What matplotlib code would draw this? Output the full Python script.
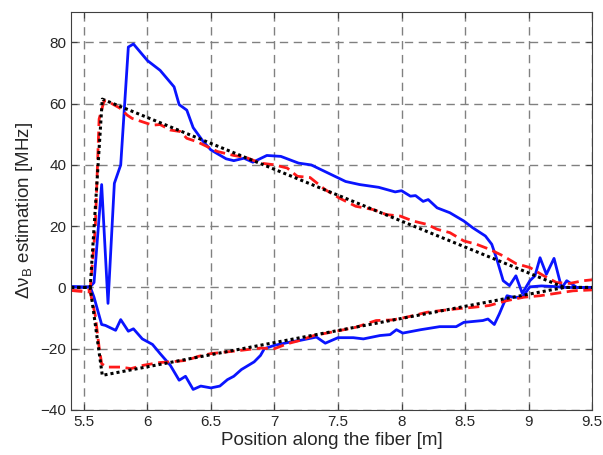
import matplotlib
matplotlib.use("Agg")
import matplotlib.pyplot as plt

# black dotted: theoretical profile
theory_up_x = [5.40, 5.55, 5.645, 9.28, 9.50]
theory_up_y = [0.0, 0.0, 61.5, 0.0, 0.0]
theory_lo_x = [5.40, 5.55, 5.645, 9.28, 9.50]
theory_lo_y = [0.0, 0.0, -28.7, 0.0, 0.0]

# red dashed: estimation (method 2)
red_up_x = [5.40, 5.50, 5.55, 5.59, 5.62, 5.66, 5.70, 5.79, 5.84, 5.88, 5.96, 6.04, 6.10, 6.18, 6.26,
            6.31, 6.39, 6.47, 6.55, 6.68, 6.78, 6.89, 6.99, 7.10, 7.18, 7.28, 7.40, 7.51, 7.64, 7.78,
            7.88, 7.99, 8.09, 8.20, 8.28, 8.38, 8.49, 8.59, 8.69, 8.80, 8.90, 9.01, 9.12, 9.22, 9.32,
            9.43, 9.50]
red_up_y = [-1.0, -1.2, -0.8, 19.5, 55.0, 61.0, 60.5, 58.4, 56.3, 55.2, 54.1, 53.0, 53.2, 51.4, 50.9,
            48.7, 47.6, 46.0, 44.4, 43.1, 42.4, 40.6, 40.1, 39.0, 36.3, 35.9, 31.9, 29.2, 26.5, 25.4,
            23.8, 23.3, 21.7, 20.6, 19.0, 17.9, 15.2, 14.1, 12.5, 10.3, 7.8, 6.5, 3.8, 1.6, 1.3,
            2.2, 2.5]
red_lo_x = [5.40, 5.50, 5.55, 5.59, 5.62, 5.64, 5.68, 5.79, 5.87, 5.97, 6.10, 6.18, 6.31, 6.40, 6.50,
            6.68, 6.89, 7.00, 7.10, 7.20, 7.31, 7.41, 7.51, 7.64, 7.80, 7.93, 8.04, 8.20, 8.30, 8.43,
            8.56, 8.69, 8.83, 8.96, 9.09, 9.22, 9.35, 9.50]
red_lo_y = [-1.0, -1.3, -1.5, -9.2, -19.5, -24.9, -26.0, -26.0, -26.5, -25.4, -24.5, -24.3, -23.8, -22.5, -21.6,
            -20.8, -19.8, -20.0, -18.4, -17.3, -15.7, -14.9, -14.1, -13.0, -10.8, -10.6, -9.7, -8.1, -7.6, -7.0,
            -6.5, -5.9, -4.3, -3.2, -2.7, -1.9, -1.1, -0.8]

# blue solid: estimation (method 1)
blue_up_x = [5.40, 5.50, 5.55, 5.58, 5.64, 5.69, 5.72, 5.74, 5.79, 5.85, 5.89, 6.00, 6.10, 6.21, 6.25,
             6.31, 6.36, 6.44, 6.50, 6.62, 6.68, 6.76, 6.83, 6.94, 7.05, 7.19, 7.29, 7.37, 7.46, 7.56,
             7.67, 7.82, 7.95, 8.00, 8.07, 8.11, 8.17, 8.21, 8.28, 8.38, 8.49, 8.56, 8.66, 8.71, 8.75,
             8.80, 8.85, 8.90, 8.95, 9.01, 9.05, 9.09, 9.14, 9.20, 9.26, 9.30, 9.38, 9.50]
blue_up_y = [0.2, 0.0, 0.2, 1.6, 33.6, -5.2, 18.4, 34.0, 40.0, 78.5, 79.5, 74.1, 70.9, 65.5, 59.7,
             57.9, 52.2, 47.6, 44.9, 42.0, 41.4, 42.2, 40.9, 43.1, 42.8, 40.6, 40.0, 38.4, 36.6, 34.6,
             33.6, 32.7, 31.2, 31.6, 29.8, 30.0, 28.1, 28.7, 26.0, 24.4, 21.7, 19.5, 16.8, 14.1, 9.2,
             2.2, 0.6, 3.8, -1.9, 2.2, 3.8, 9.7, 4.3, 9.5, -0.2, 2.2, 0.0, 0.0]
blue_lo_x = [5.40, 5.50, 5.55, 5.58, 5.64, 5.67, 5.75, 5.79, 5.85, 5.89, 5.96, 6.04, 6.10, 6.18, 6.25,
             6.30, 6.36, 6.42, 6.50, 6.57, 6.63, 6.68, 6.74, 6.84, 6.89, 6.92, 7.00, 7.15, 7.20, 7.33,
             7.40, 7.50, 7.62, 7.70, 7.83, 7.91, 7.96, 8.01, 8.15, 8.30, 8.43, 8.49, 8.64, 8.68, 8.73,
             8.77, 8.83, 8.88, 8.95, 9.01, 9.10, 9.20, 9.30, 9.40, 9.50]
blue_lo_y = [0.3, 0.2, 0.2, -3.2, -12.1, -12.4, -14.0, -10.5, -14.3, -13.5, -16.8, -18.6, -21.6, -25.4, -30.3,
             -29.0, -33.3, -32.2, -32.8, -32.2, -30.1, -29.0, -26.8, -24.3, -22.2, -20.0, -18.9, -17.6, -17.3, -16.2,
             -18.2, -16.4, -16.4, -16.8, -15.7, -15.4, -13.8, -14.9, -13.8, -12.8, -12.8, -11.4, -10.8, -10.3, -12.1,
             -8.6, -2.7, -3.2, -3.2, 0.2, 0.5, 0.3, 0.0, 0.0, 0.0]

x_ticks = [5.5, 6, 6.5, 7, 7.5, 8, 8.5, 9, 9.5]
x_tick_labels = ["5.5", "6", "6.5", "7", "7.5", "8", "8.5", "9", "9.5"]
y_ticks = [-40, -20, 0, 20, 40, 60, 80]

plt.rcParams["font.family"] = ["Liberation Sans", "DejaVu Sans"]

fig = plt.figure(figsize=(6.03, 4.55), dpi=100)
ax = fig.add_axes([0.118, 0.099, 0.864, 0.875])

blue = "#0a14ff"
red = "#ff1a1a"
ax.plot(blue_up_x, blue_up_y, color=blue, linewidth=2)
ax.plot(blue_lo_x, blue_lo_y, color=blue, linewidth=2)
ax.plot(red_up_x, red_up_y, color=red, linewidth=2, linestyle=(0, (4, 2)))
ax.plot(red_lo_x, red_lo_y, color=red, linewidth=2, linestyle=(0, (4, 2)))
ax.plot(theory_up_x, theory_up_y, color="black", linewidth=2.2, linestyle=(0, (1, 1)))
ax.plot(theory_lo_x, theory_lo_y, color="black", linewidth=2.2, linestyle=(0, (1, 1)))

ax.set_xlim(5.4, 9.5)
ax.set_ylim(-40, 90)
ax.set_xticks(x_ticks)
ax.set_xticklabels(x_tick_labels)
ax.set_yticks(y_ticks)
ax.tick_params(direction="in", labelsize=11, length=4, top=True, right=True,
               colors="#404040", labelcolor="#262626")
ax.grid(True, color="#808080", linestyle=(0, (6, 4)), linewidth=1)
for s in ax.spines.values():
    s.set_color("#404040")

ax.set_xlabel("Position along the fiber [m]", fontsize=13.5, labelpad=2, color="#262626")
ax.set_ylabel("Δν$_\\mathregular{B}$ estimation [MHz]", fontsize=13.5, labelpad=4, color="#262626")

fig.savefig("out.png", dpi=100)
